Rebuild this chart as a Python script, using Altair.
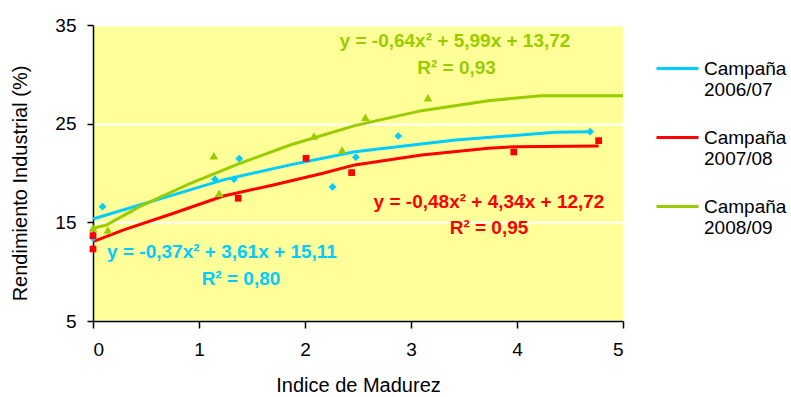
import altair as alt
import pandas as pd

series = ["Campaña 2006/07", "Campaña 2007/08", "Campaña 2008/09"]
colors = ["#00CCFF", "#FF0000", "#99CC00"]
shapes = ["diamond", "square", "triangle-up"]

# observed points
pts_x_0607 = [0.0, 0.09, 1.15, 1.33, 1.38, 2.26, 2.48, 2.88, 4.69]
pts_y_0607 = [13.4, 16.59, 19.37, 19.37, 21.45, 18.59, 21.6, 23.75, 24.19]
pts_x_0708 = [0.0, 0.0, 1.37, 2.01, 2.44, 3.97, 4.77]
pts_y_0708 = [13.65, 12.3, 17.44, 21.49, 20.04, 22.13, 23.28]
pts_x_0809 = [0.0, 0.14, 1.14, 1.19, 2.085, 2.35, 2.57, 3.16]
pts_y_0809 = [14.43, 14.23, 21.76, 17.95, 23.75, 22.34, 25.65, 27.63]

# trend lines
tr_x_0607 = [0.0, 0.6, 1.23, 1.86, 2.47, 3.42, 4.36, 4.69]
tr_y_0607 = [15.34, 17.27, 19.3, 20.82, 22.16, 23.35, 24.13, 24.19]
tr_x_0708 = [0.0, 0.29, 0.76, 1.23, 1.70, 2.17, 2.47, 3.10, 3.73, 3.98, 4.77]
tr_y_0708 = [13.04, 14.23, 15.92, 17.67, 18.79, 19.97, 20.82, 21.83, 22.51, 22.67, 22.74]
tr_x_0809 = [0.0, 0.13, 0.44, 0.92, 1.39, 1.86, 2.47, 3.10, 3.73, 4.23, 5.0]
tr_y_0809 = [14.4, 14.74, 16.59, 18.96, 20.99, 22.84, 24.8, 26.32, 27.33, 27.84, 27.84]

# equation annotations
eq_text = ["y = -0,37x² + 3,61x + 15,11", "R² = 0,80",
           "y = -0,48x² + 4,34x + 12,72", "R² = 0,95",
           "y = -0,64x² + 5,99x + 13,72", "R² = 0,93"]
eq_x = [1.217, 1.396, 3.736, 3.736, 3.415, 3.43]
eq_y = [12.0, 9.27, 17.02, 14.43, 33.38, 30.6]
eq_serie = [0, 0, 1, 1, 2, 2]

tr_rows = []
for s, xs, ys in zip(series, [tr_x_0607, tr_x_0708, tr_x_0809], [tr_y_0607, tr_y_0708, tr_y_0809]):
    for a, b in zip(xs, ys):
        tr_rows.append({"serie": s, "x": a, "y": b})
tr_df = pd.DataFrame(tr_rows)

FONT = "Liberation Sans"

xenc = alt.X("x:Q", scale=alt.Scale(domain=[0, 5], nice=False, zero=False),
             axis=alt.Axis(values=[0, 1, 2, 3, 4, 5], title="Indice de Madurez", grid=False,
                           tickSize=7, labelPadding=12, titleY=64, titleBaseline="middle",
                           format="d"))
yenc = alt.Y("y:Q", scale=alt.Scale(domain=[5, 35], nice=False, zero=False),
             axis=alt.Axis(values=[5, 15, 25, 35], title="Rendimiento Industrial (%)", grid=True,
                           tickSize=6, labelPadding=11, titleX=-73, titleY=158,
                           titleBaseline="middle", format="d"))

legend = alt.Legend(title=None, orient="none", legendX=562, legendY=21,
                    symbolType="stroke", symbolSize=1764, symbolStrokeWidth=3,
                    labelFont=FONT, labelFontSize=19, labelColor="#000000",
                    labelExpr="split(datum.label, ' ')", labelBaseline="middle",
                    labelOffset=4, rowPadding=15, padding=0, labelLimit=200)

lines = alt.Chart(tr_df).mark_line(strokeWidth=3).encode(
    x=xenc, y=yenc,
    color=alt.Color("serie:N", scale=alt.Scale(domain=series, range=colors), legend=legend),
    order="x:Q",
)

point_sizes = [60, 45, 75]
point_layers = []
for i, (xs, ys) in enumerate(zip([pts_x_0607, pts_x_0708, pts_x_0809],
                                 [pts_y_0607, pts_y_0708, pts_y_0809])):
    df = pd.DataFrame({"x": xs, "y": ys})
    point_layers.append(alt.Chart(df).mark_point(filled=True, size=point_sizes[i], opacity=1,
                                                 shape=shapes[i], color=colors[i])
                        .encode(x=xenc, y=yenc))

texts = []
for i in range(3):
    idx = [k for k in range(len(eq_text)) if eq_serie[k] == i]
    df = pd.DataFrame({"t": [eq_text[k] for k in idx], "x": [eq_x[k] for k in idx],
                       "y": [eq_y[k] for k in idx]})
    texts.append(alt.Chart(df).mark_text(font=FONT, fontSize=19, fontWeight="bold",
                                         align="center", baseline="middle",
                                         color=colors[i]).encode(x=xenc, y=yenc, text="t:N"))

chart = alt.layer(lines, *point_layers, *texts).properties(
    width=530, height=296,
    autosize=alt.AutoSizeParams(type="none"),
    padding={"left": 93, "top": 25, "right": 168, "bottom": 76},
    background="#FFFFFF",
).configure_view(fill="#FFFF99", strokeWidth=0).configure_axis(
    labelFont=FONT, labelFontSize=19, labelColor="#000000",
    titleFont=FONT, titleFontSize=20, titleFontWeight="normal", titleColor="#000000",
    domainColor="#000000", domainWidth=1.5, tickColor="#000000", tickWidth=1.5,
    gridColor="#FFFFFF", gridWidth=2, gridOpacity=1,
)

chart.save("out.html", embed_options={"renderer": "svg", "actions": False})
